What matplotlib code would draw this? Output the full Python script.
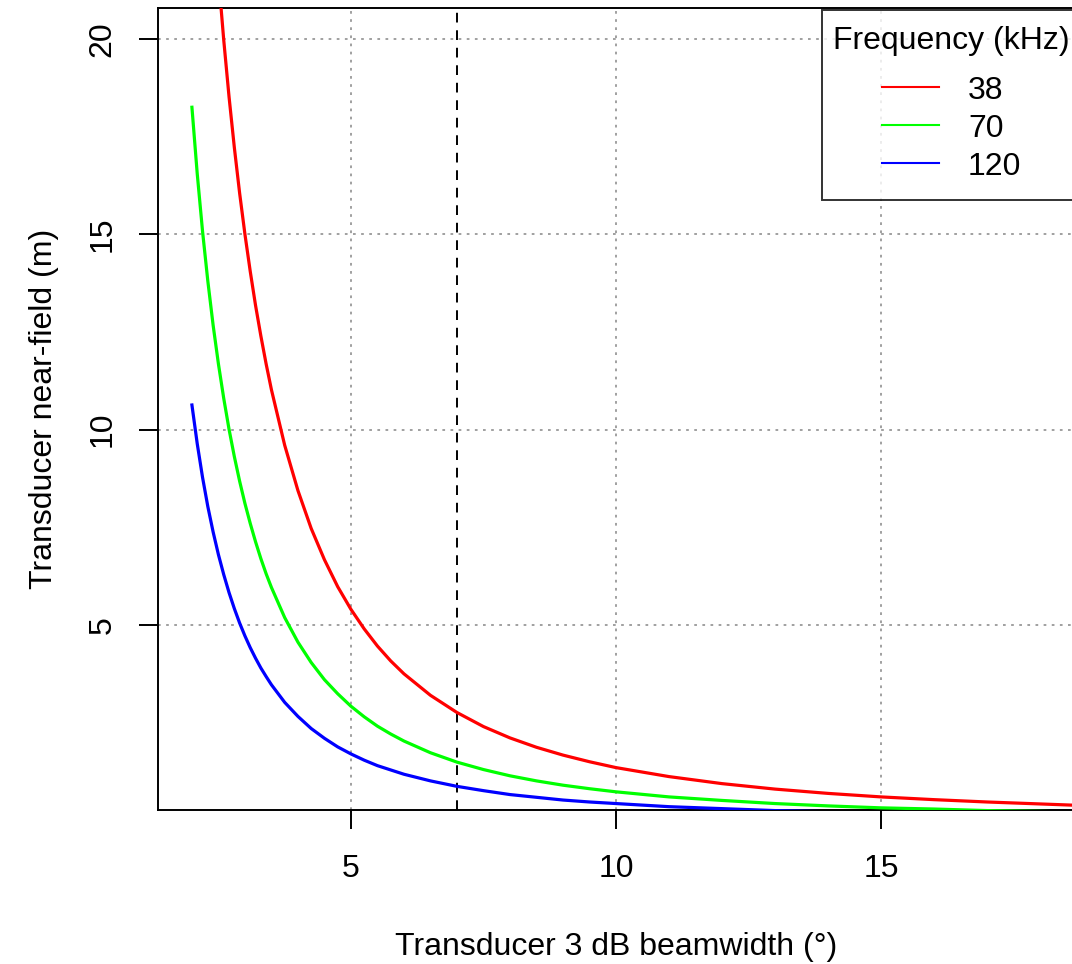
import matplotlib.pyplot as plt
from matplotlib.offsetbox import DrawingArea, VPacker

plt.rcParams['font.family'] = ['Liberation Sans', 'DejaVu Sans']

# Data
beamwidth = [2.0, 2.1, 2.2, 2.3, 2.4, 2.5, 2.6, 2.7, 2.8, 2.9, 3.0, 3.1, 3.2, 3.3, 3.4, 3.5,
             3.75, 4.0, 4.25, 4.5, 4.75, 5.0, 5.25, 5.5, 5.75, 6.0,
             6.5, 7.0, 7.5, 8.0, 8.5, 9.0, 9.5, 10.0,
             11, 12, 13, 14, 15, 16, 17, 18, 19]
nf_38 = [33.75, 30.61, 27.89, 25.52, 23.44, 21.60, 19.97, 18.52, 17.22, 16.05, 15.00, 14.05,
         13.18, 12.40, 11.68, 11.02, 9.60, 8.44, 7.47, 6.67, 5.98, 5.40, 4.90, 4.46, 4.08,
         3.75, 3.20, 2.76, 2.40, 2.11, 1.87, 1.67, 1.50, 1.35, 1.12, 0.94, 0.80, 0.69, 0.60,
         0.53, 0.47, 0.42, 0.37]
nf_70 = [18.25, 16.55, 15.08, 13.80, 12.67, 11.68, 10.80, 10.01, 9.31, 8.68, 8.11, 7.60,
         7.13, 6.70, 6.31, 5.96, 5.19, 4.56, 4.04, 3.60, 3.24, 2.92, 2.65, 2.41, 2.21,
         2.03, 1.73, 1.49, 1.30, 1.14, 1.01, 0.90, 0.81, 0.73, 0.60, 0.51, 0.43, 0.37, 0.32,
         0.29, 0.25, 0.23, 0.20]
nf_120 = [10.63, 9.64, 8.78, 8.03, 7.38, 6.80, 6.29, 5.83, 5.42, 5.05, 4.72, 4.42,
          4.15, 3.90, 3.68, 3.47, 3.02, 2.66, 2.35, 2.10, 1.88, 1.70, 1.54, 1.40, 1.29,
          1.18, 1.01, 0.87, 0.76, 0.66, 0.59, 0.52, 0.47, 0.43, 0.35, 0.30, 0.25, 0.22, 0.19,
          0.17, 0.15, 0.13, 0.12]
freqs = ['38', '70', '120']
colors = ['#ff0000', '#00ff00', '#0000ff']
ref_beamwidth = 7

fig = plt.figure(figsize=(10.72, 9.64), dpi=100)
ax = fig.add_axes([158 / 1072, 154 / 964, 916 / 1072, 802 / 964])

# grid
for v in [5, 10, 15]:
    ax.axvline(v, color='#999999', lw=1.3, ls=(0, (1.5, 3)), zorder=1)
for v in [5, 10, 15, 20]:
    ax.axhline(v, color='#999999', lw=1.3, ls=(0, (1.5, 3)), zorder=1)

for series, col, f in zip([nf_38, nf_70, nf_120], colors, freqs):
    ax.plot(beamwidth, series, color=col, lw=2.3, label=f, zorder=3,
            solid_joinstyle='round')

ax.axvline(ref_beamwidth, color='black', lw=1.4, ls=(0, (5, 4)), zorder=2)

ax.set_xlim(1.36, 18.64)
ax.set_ylim(0.265, 20.79)
ax.set_xticks([5, 10, 15])
ax.set_yticks([5, 10, 15, 20])
ax.tick_params(axis='both', length=14, width=1.4, labelsize=23)
ax.tick_params(axis='x', pad=18)
ax.tick_params(axis='y', pad=15)
for lab in ax.get_yticklabels():
    lab.set_rotation(90)
    lab.set_va('center')
for s in ['left', 'bottom', 'top']:
    ax.spines[s].set_linewidth(1.4)
ax.spines['right'].set_visible(False)

ax.set_xlabel('Transducer 3 dB beamwidth (°)', fontsize=23, labelpad=34)
ax.set_ylabel('Transducer near-field (m)', fontsize=23, labelpad=21)

leg = ax.legend(title='Frequency (kHz)', loc='upper left',
                bbox_to_anchor=(822 / 1072, 1 - 10 / 964), bbox_transform=fig.transFigure,
                fontsize=23, title_fontsize=23, frameon=True, fancybox=False,
                handlelength=1.8, handletextpad=0.9, labelspacing=0.25,
                borderaxespad=0, borderpad=0.35, alignment='center')
leg._legend_box.sep = 14
# a little extra room above the title and below the last entry
title_box, entry_box = leg._legend_box._children
leg._legend_box._children = [
    VPacker(children=[DrawingArea(0, 3.6), title_box], pad=0, sep=0, align='center'),
    VPacker(children=[entry_box, DrawingArea(0, 5)], pad=0, sep=0, align='center'),
]
leg.get_frame().set_edgecolor('black')
leg.get_frame().set_linewidth(1.4)
for line in leg.get_lines():
    line.set_linewidth(1.5)

fig.savefig('out.png', dpi=100)
